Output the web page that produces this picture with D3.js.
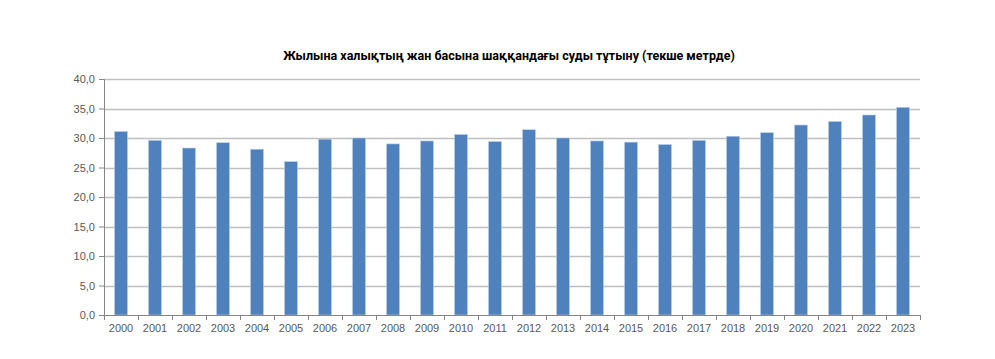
<!DOCTYPE html>
<html>
<head>
<meta charset="utf-8">
<script src="https://cdn.jsdelivr.net/npm/d3@7"></script>
<style>
  body { margin: 0; background: #fff; }
  svg { display: block; font-family: "Liberation Sans", Arial, sans-serif; }
  .chart-title { font-family: Roboto, "Liberation Sans", Arial, sans-serif; font-weight: bold; font-size: 12.5px; fill: #000; }
  .tick text { fill: #595959; font-size: 11px; font-family: "Liberation Sans", Arial, sans-serif; }
</style>
</head>
<body>
<div id="chart"></div>
<script>
const years = ["2000", "2001", "2002", "2003", "2004", "2005", "2006", "2007",
  "2008", "2009", "2010", "2011", "2012", "2013", "2014", "2015",
  "2016", "2017", "2018", "2019", "2020", "2021", "2022", "2023"];
const consumption = [31.1, 29.6, 28.3, 29.2, 28.1, 26.0, 29.8, 30.0,
  29.0, 29.5, 30.6, 29.4, 31.4, 30.0, 29.5, 29.3,
  28.9, 29.6, 30.3, 30.9, 32.2, 32.8, 33.9, 35.2];
const yTicks = [0, 5, 10, 15, 20, 25, 30, 35, 40];
const title = "Жылына халықтың жан басына шаққандағы суды тұтыну (текше метрде)";

const width = 995;
const height = 359;
const margin = { top: 79, right: 75, bottom: 44, left: 104 };
const innerWidth = width - margin.left - margin.right;
const innerHeight = height - margin.top - margin.bottom;

const svg = d3.select("#chart")
  .append("svg")
  .attr("width", width)
  .attr("height", height);

svg.append("text")
  .attr("class", "chart-title")
  .attr("x", 509)
  .attr("y", 60)
  .attr("text-anchor", "middle")
  .text(title);

const g = svg.append("g")
  .attr("transform", `translate(${margin.left},${margin.top})`);

const x = d3.scaleBand().domain(years).range([0, innerWidth]);
const y = d3.scaleLinear().domain([0, 40]).range([innerHeight, 0]);
const fmt = (d) => d3.format(".1f")(d).replace(".", ",");
const barWidth = 13;

// gridlines
g.append("g")
  .selectAll("line")
  .data(yTicks.filter((d) => d > 0))
  .join("line")
  .attr("x1", 0)
  .attr("x2", innerWidth)
  .attr("y1", (d) => Math.round(y(d)) + 0.5)
  .attr("y2", (d) => Math.round(y(d)) + 0.5)
  .attr("stroke", "#bfbfbf")
  .attr("stroke-width", 1.5);

// bars
g.append("g")
  .selectAll("rect")
  .data(years.map((yr, i) => ({ yr, v: consumption[i] })))
  .join("rect")
  .attr("x", (d) => x(d.yr) + (x.bandwidth() - barWidth) / 2)
  .attr("width", barWidth)
  .attr("y", (d) => y(d.v))
  .attr("height", (d) => innerHeight - y(d.v))
  .attr("fill", "#4f81bd")
  .attr("stroke", "#bcd0e8")
  .attr("stroke-width", 0.6);

// y axis
const yAxis = g.append("g")
  .call(d3.axisLeft(y).tickValues(yTicks).tickFormat(fmt).tickSize(5).tickPadding(4));
yAxis.attr("font-family", null);
yAxis.select(".domain").attr("stroke", "#868686");
yAxis.selectAll(".tick line").attr("stroke", "#868686");

// x axis
const xAxis = g.append("g")
  .attr("transform", `translate(0,${innerHeight})`)
  .call(d3.axisBottom(x).tickSize(0).tickPadding(9));
xAxis.attr("font-family", null);
xAxis.select(".domain").attr("stroke", "#868686").attr("d", `M0.5,0.5H${innerWidth}`);

// category separator ticks
g.append("g")
  .attr("transform", `translate(0,${innerHeight})`)
  .selectAll("line")
  .data(d3.range(years.length + 1))
  .join("line")
  .attr("x1", (i) => Math.round(i * x.step()) + 0.5)
  .attr("x2", (i) => Math.round(i * x.step()) + 0.5)
  .attr("y1", 0)
  .attr("y2", 5)
  .attr("stroke", "#868686");
</script>
</body>
</html>
